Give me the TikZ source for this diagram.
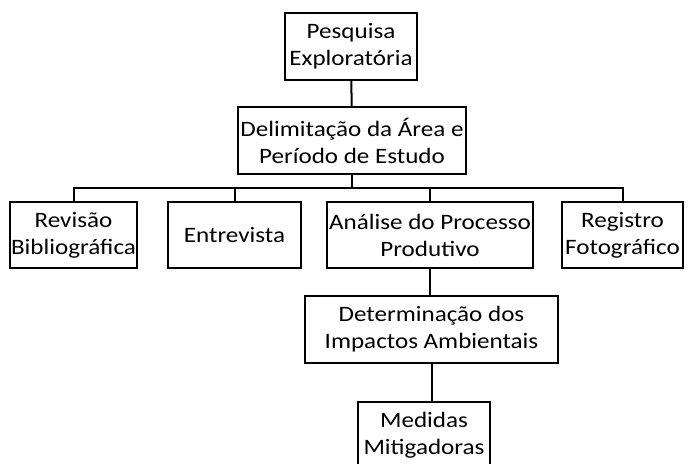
\documentclass[tikz,border=0pt]{standalone}
\usepackage{fontspec}
\setmainfont{Carlito}[FakeStretch=1.14]
\usetikzlibrary{positioning}

\tikzset{
    etapa/.style={draw=black, line width=2pt, align=center, inner sep=0pt,
        minimum height=67pt, font=\fontsize{22}{27}\selectfont},
    liga/.style={draw=black, line width=2pt}
}

\begin{document}
\begin{tikzpicture}[x=1pt, y=-1pt]
    %% moldura
    \useasboundingbox (0,0) rectangle (693,463);
    \clip (0,0) rectangle (693,463);
    %% etapas
    \node[etapa, minimum width=132pt] (pesq) at (351,46.5) {Pesquisa\\Exploratória};
    \node[etapa, minimum width=228pt] (delim) at (352,140.5) {Delimitação da Área e\\Período de Estudo};
    %%
    \node[etapa, minimum width=127pt, minimum height=66pt] (rev) at (73.5,235) {Revisão\\Bibliográfica};
    \node[etapa, minimum width=133pt, minimum height=66pt] (entr) at (234.5,235) {Entrevista};
    \node[etapa, minimum width=206pt, minimum height=66pt] (anal) at (430,235) {Análise do Processo\\Produtivo};
    \node[etapa, minimum width=121pt, minimum height=66pt] (reg) at (622.5,235) {Registro\\Fotográfico};
    %%
    \node[etapa, minimum width=253pt] (det) at (431.5,329.5) {Determinação dos\\Impactos Ambientais};
    \node[etapa, minimum width=132pt] (med) at (424,435.5) {Medidas\\Mitigadoras};
    % ligações
    \coordinate (bus) at (352,188);
    \draw[liga] (pesq) -- (delim);
    \draw[liga] (delim.south) -- (bus);
    \foreach \n in {rev,entr,anal,reg}
        \draw[liga] (\n.north) |- (bus);
    \draw[liga] (anal.south) -- (anal.south |- det.north);
    \draw[liga] (det.south) -- (det.south |- med.north);
\end{tikzpicture}
\end{document}
